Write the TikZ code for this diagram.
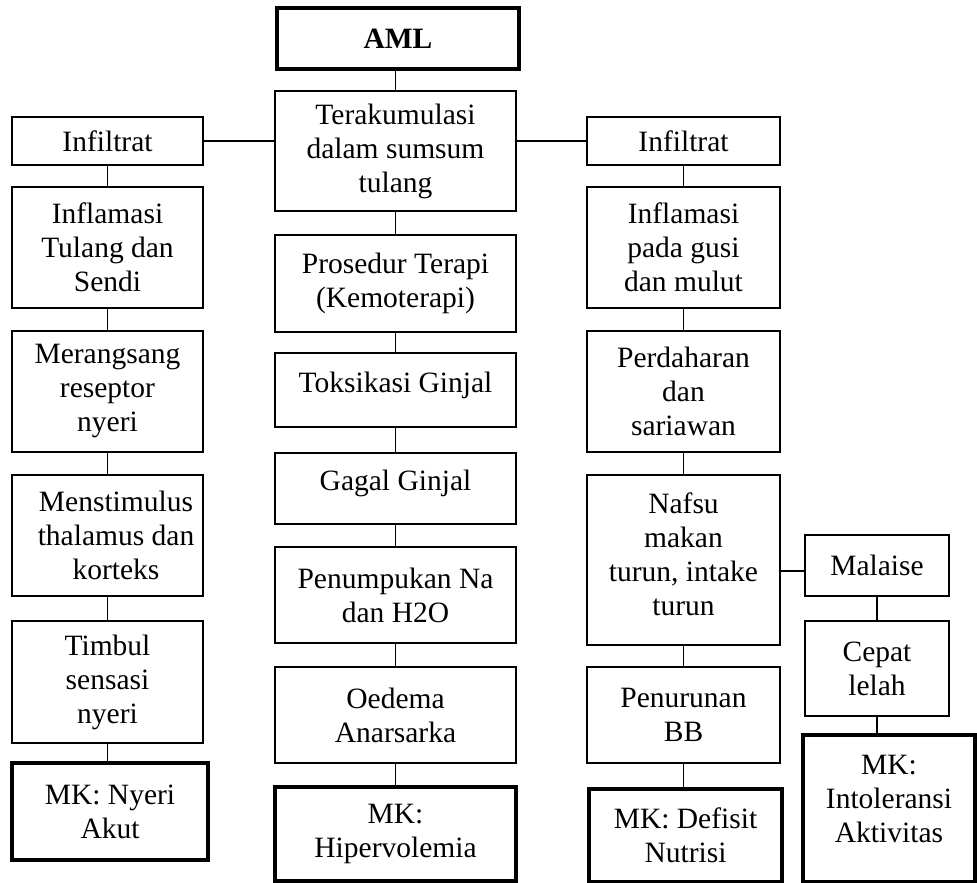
\documentclass[tikz,border=0pt]{standalone}
\usepackage{fontspec}
\setmainfont{Liberation Serif}
\usepackage{tikz}

\begin{document}
\begin{tikzpicture}[x=1pt,y=-1pt,
	main node/.style={rectangle,draw,line width=1.8pt,inner sep=0pt,align=center,
		font=\fontsize{29.5}{34}\selectfont},
	mk node/.style={main node,line width=3.3pt},
	every edge/.style={draw,line width=1.1pt}]

	\useasboundingbox (0,0) rectangle (977,883);

	% tengah
	\node[mk node,minimum width=242pt,minimum height=61pt] (aml) at (398,38.5) {\textbf{AML}};
	\node[main node,minimum width=241pt,minimum height=120pt] (akum) at (395.5,151) {Terakumulasi\\dalam sumsum\\tulang};
	\node[main node,minimum width=241pt,minimum height=97pt] (terapi) at (395.5,283.5) {Prosedur Terapi\\(Kemoterapi)};
	\node[main node,minimum width=241pt,minimum height=74pt,text depth=16pt] (toksik) at (395.5,390) {Toksikasi Ginjal};
	\node[main node,minimum width=241pt,minimum height=71pt,text depth=16pt] (gagal) at (395.5,488.5) {Gagal Ginjal};
	\node[main node,minimum width=241pt,minimum height=96pt] (numpuk) at (395.5,595) {Penumpukan Na\\dan H2O};
	\node[main node,minimum width=241pt,minimum height=96pt] (oedema) at (395.5,715) {Oedema\\Anarsarka};
	\node[mk node,minimum width=241pt,minimum height=94pt] (hiper) at (395.5,834) {MK:\\Hipervolemia};

	% kiri
	\node[main node,minimum width=191pt,minimum height=48pt] (infkiri) at (107.5,141) {Infiltrat};
	\node[main node,minimum width=191pt,minimum height=121pt] (radkiri) at (107.5,247.5) {Inflamasi\\Tulang dan\\Sendi};
	\node[main node,minimum width=191pt,minimum height=121pt] (rangsang) at (107.5,391.5) {Merangsang\\reseptor\\nyeri};
	\node[main node,minimum width=191pt,minimum height=121pt] (stimulus) at (107.5,535.5) {\hspace*{17pt}Menstimulus\\\hspace*{17pt}thalamus dan\\\hspace*{17pt}korteks};
	\node[main node,minimum width=191pt,minimum height=122pt] (timbul) at (107.5,682) {Timbul\\sensasi\\nyeri};
	\node[mk node,minimum width=196pt,minimum height=97pt] (nyeri) at (110,811.5) {MK: Nyeri\\Akut};

	% kanan
	\node[main node,minimum width=193pt,minimum height=48pt] (infkanan) at (683.5,141) {Infiltrat};
	\node[main node,minimum width=193pt,minimum height=121pt] (radkanan) at (683.5,247.5) {Inflamasi\\pada gusi\\dan mulut};
	\node[main node,minimum width=193pt,minimum height=121pt] (darah) at (683.5,391.5) {Perdaharan\\dan\\sariawan};
	\node[main node,minimum width=193pt,minimum height=170pt,text depth=12pt] (nafsu) at (683.5,560) {Nafsu\\makan\\turun, intake\\turun};
	\node[main node,minimum width=193pt,minimum height=96pt] (bb) at (683.5,715) {Penurunan\\BB};
	\node[mk node,minimum width=193pt,minimum height=93pt] (defisit) at (685.5,835.5) {MK: Defisit\\Nutrisi};

	\node[main node,minimum width=144pt,minimum height=61pt] (malaise) at (877,565.5) {Malaise};
	\node[main node,minimum width=144pt,minimum height=95pt] (lelah) at (877,668.5) {Cepat\\lelah};
	\node[mk node,minimum width=172pt,minimum height=147pt,text depth=20pt] (intol) at (889,808.5) {MK:\\Intoleransi\\Aktivitas};

	\path
	(akum.north) edge (akum.north |- aml.south)
	(infkiri.east) edge (infkiri.east -| akum.west)
	(infkanan.west) edge (infkanan.west -| akum.east)
	(akum.south) edge (terapi.north)
	(terapi.south) edge (toksik.north)
	(toksik.south) edge (gagal.north)
	(gagal.south) edge (numpuk.north)
	(numpuk.south) edge (oedema.north)
	(oedema.south) edge (oedema.south |- hiper.north)
	(infkiri.south) edge (radkiri.north)
	(radkiri.south) edge (rangsang.north)
	(rangsang.south) edge (stimulus.north)
	(stimulus.south) edge (timbul.north)
	(timbul.south) edge (timbul.south |- nyeri.north)
	(infkanan.south) edge (radkanan.north)
	(radkanan.south) edge (darah.north)
	(darah.south) edge (nafsu.north)
	(nafsu.south) edge (bb.north)
	(bb.south) edge (bb.south |- defisit.north)
	([yshift=-5.5pt]malaise.west) edge ([yshift=-5.5pt]malaise.west -| nafsu.east)
	(malaise.south) edge (lelah.north)
	(lelah.south) edge (lelah.south |- intol.north)
	;
\end{tikzpicture}
\end{document}
